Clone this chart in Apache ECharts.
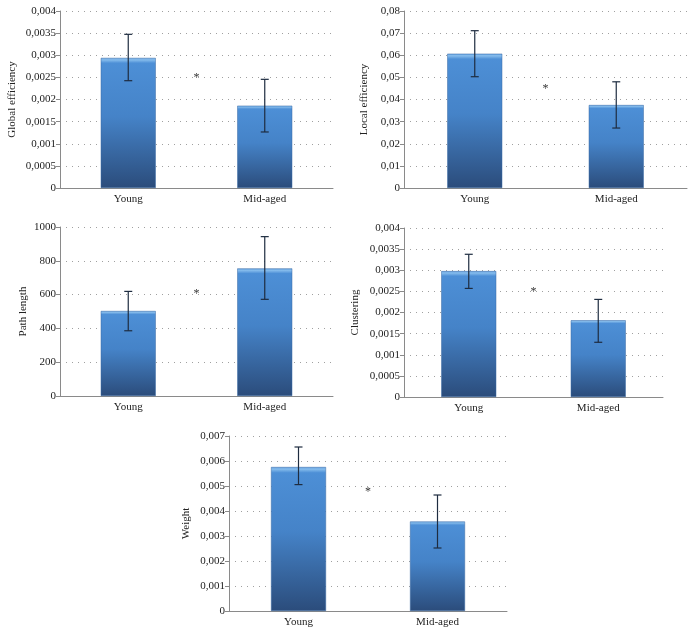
<!DOCTYPE html>
<html><head><meta charset="utf-8">
<script src="https://cdn.jsdelivr.net/npm/echarts@6/dist/echarts.min.js"></script>
<style>html,body{margin:0;padding:0;background:#fff}#c{width:698px;height:632px}</style>
</head><body><div id="c"></div>
<script>
const categories = ['Young', 'Mid-aged'];
const names = ['Global efficiency', 'Local efficiency', 'Path length', 'Clustering', 'Weight'];
const means = [
  [0.00294, 0.00186],
  [0.0607, 0.0375],
  [503, 755],
  [0.00298, 0.001815],
  [0.00576, 0.00358]
];
const errLow = [
  [0.002425, 0.001266],
  [0.0503, 0.0271],
  [386, 572],
  [0.00257, 0.001295],
  [0.005056, 0.00252]
];
const errHigh = [
  [0.003473, 0.002456],
  [0.0711, 0.048],
  [619, 943],
  [0.003378, 0.00231],
  [0.00656, 0.00464]
];
const starY = [0.0025, 0.0447, 603, 0.00248, 0.00476];
const yMax = [0.004, 0.08, 1000, 0.004, 0.007];
const yInterval = [0.0005, 0.01, 200, 0.0005, 0.001];

const grids = [
  {left: 60, top: 11, width: 273, height: 177, nameGap: 42},
  {left: 404, top: 11, width: 283, height: 177, nameGap: 34},
  {left: 60, top: 227, width: 273, height: 169, nameGap: 31},
  {left: 404, top: 228, width: 259, height: 169, nameGap: 43},
  {left: 229, top: 436, width: 278, height: 175, nameGap: 37}
];
const font = '"Liberation Serif", "DejaVu Serif", serif';
function fmt(v){ return String(+v.toFixed(6)).replace('.', ','); }

const barColor = {
  type: 'linear', x: 0, y: 0, x2: 0, y2: 1,
  colorStops: [
    {offset: 0, color: '#5d9de0'},
    {offset: 0.015, color: '#86bcec'},
    {offset: 0.04, color: '#4d8fd6'},
    {offset: 0.45, color: '#4583c8'},
    {offset: 1, color: '#2b4c7b'}
  ]
};

const option = {
  animation: false,
  backgroundColor: '#fff',
  grid: grids.map(g => ({left: g.left, top: g.top, width: g.width, height: g.height})),
  xAxis: grids.map((g, i) => ({
    type: 'category', gridIndex: i, data: categories,
    axisLine: {lineStyle: {color: '#8a8a8a', width: 1}},
    axisTick: {show: false},
    axisLabel: {color: '#222', fontFamily: font, fontSize: 11, margin: 6},
    splitLine: {show: false}
  })),
  yAxis: grids.map((g, i) => ({
    type: 'value', gridIndex: i, min: 0, max: yMax[i], interval: yInterval[i],
    name: names[i], nameLocation: 'middle', nameGap: g.nameGap, nameRotate: 90,
    nameTextStyle: {color: '#222', fontFamily: font, fontSize: 11},
    axisLine: {show: true, lineStyle: {color: '#8a8a8a', width: 1}},
    axisTick: {show: true, length: 4, lineStyle: {color: '#8a8a8a'}},
    axisLabel: {color: '#222', fontFamily: font, fontSize: 11, margin: 4, formatter: fmt},
    splitLine: {show: true, lineStyle: {color: '#a0a0a0', type: [1, 5], width: 1}}
  })),
  series: []
};

for (let i = 0; i < 5; i++) {
  option.series.push({
    type: 'bar', xAxisIndex: i, yAxisIndex: i, data: means[i], barWidth: 55,
    itemStyle: {color: barColor, borderColor: '#3a6aa5', borderWidth: 0.5}
  });
  option.series.push({
    type: 'custom', xAxisIndex: i, yAxisIndex: i, z: 5,
    data: categories.map((c, k) => [k, errLow[i][k], errHigh[i][k]]),
    renderItem: function (params, api) {
      const x = api.value(0);
      const lo = api.coord([x, api.value(1)]);
      const hi = api.coord([x, api.value(2)]);
      const cw = 4;
      const st = {stroke: '#1e2c40', lineWidth: 1.2};
      return {type: 'group', children: [
        {type: 'line', shape: {x1: lo[0], y1: lo[1], x2: hi[0], y2: hi[1]}, style: st},
        {type: 'line', shape: {x1: lo[0]-cw, y1: lo[1], x2: lo[0]+cw, y2: lo[1]}, style: st},
        {type: 'line', shape: {x1: hi[0]-cw, y1: hi[1], x2: hi[0]+cw, y2: hi[1]}, style: st}
      ]};
    }
  });
  option.series.push({
    type: 'custom', xAxisIndex: i, yAxisIndex: i, z: 6,
    data: [[0, starY[i]]],
    renderItem: function (params, api) {
      const a = api.coord([0, api.value(1)]);
      const b = api.coord([1, api.value(1)]);
      return {type: 'text', style: {text: '*', x: (a[0]+b[0])/2, y: a[1], fill: '#333',
        font: '12px ' + font, textAlign: 'center', textVerticalAlign: 'middle'}};
    }
  });
}

const chart = echarts.init(document.getElementById('c'), null, {renderer: 'canvas'});
chart.setOption(option);
</script>
</body></html>
